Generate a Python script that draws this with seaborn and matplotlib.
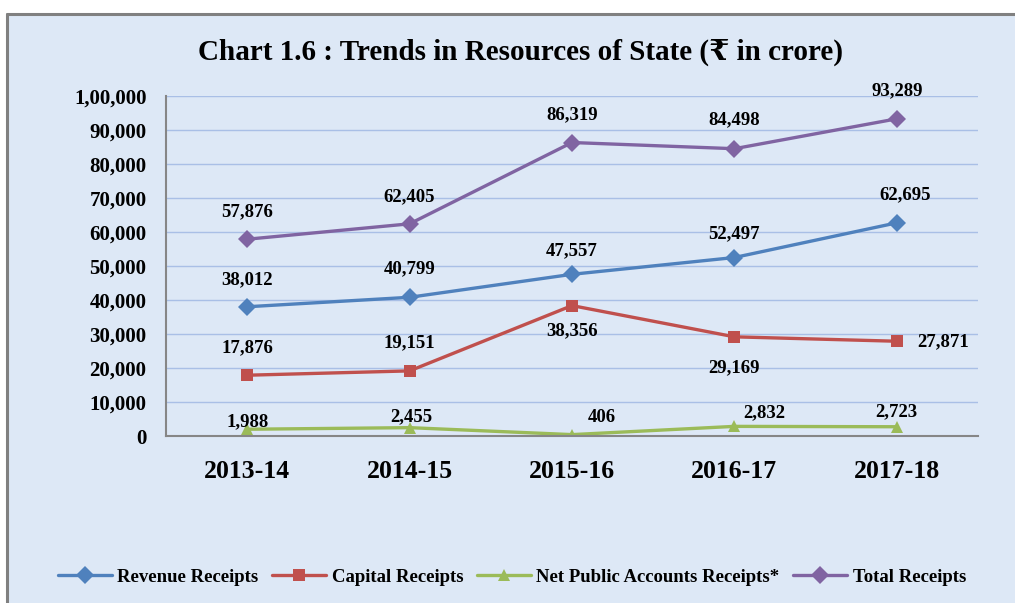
import seaborn as sns
import matplotlib.pyplot as plt
import matplotlib.patches as mpatches
from matplotlib.lines import Line2D
import pandas as pd
import numpy as np

# Data (Rs in crore)
years = ['2013-14', '2014-15', '2015-16', '2016-17', '2017-18']
revenue = [38012, 40799, 47557, 52497, 62695]
capital = [17876, 19151, 38356, 29169, 27871]
npa = [1988, 2455, 406, 2832, 2723]
total = [57876, 62405, 86319, 84498, 93289]
series_names = ['Revenue Receipts', 'Capital Receipts',
                'Net Public Accounts Receipts*', 'Total Receipts']
ytick_vals = [0, 10000, 20000, 30000, 40000, 50000, 60000, 70000, 80000, 90000, 100000]
ytick_labels = ['0', '10,000', '20,000', '30,000', '40,000', '50,000',
                '60,000', '70,000', '80,000', '90,000', '1,00,000']

rows = []
for name, vals in zip(series_names, [revenue, capital, npa, total]):
    for y, v in zip(years, vals):
        rows.append({'Year': y, 'Value': v, 'Series': name})
df = pd.DataFrame(rows)

colors = {'Revenue Receipts': '#4f81bd', 'Capital Receipts': '#c0504d',
          'Net Public Accounts Receipts*': '#9bbb59', 'Total Receipts': '#8064a2'}
markers = {'Revenue Receipts': 'D', 'Capital Receipts': 's',
           'Net Public Accounts Receipts*': '^', 'Total Receipts': 'D'}

sns.set_style("white")
plt.rcParams['font.family'] = ['Liberation Serif', 'DejaVu Serif']
plt.rcParams['font.weight'] = 'bold'
plt.rcParams['text.color'] = 'black'
plt.rcParams['xtick.labelcolor'] = 'black'
plt.rcParams['ytick.labelcolor'] = 'black'

fig = plt.figure(figsize=(10.15, 6.03), dpi=100)
fig.patch.set_facecolor('white')

# light blue panel with grey top/left border
W, H = 1015, 603
fig.add_artist(mpatches.Rectangle((7 / W, 0), 1 - 7 / W, 1 - 14 / H,
                                  transform=fig.transFigure, facecolor='#dde8f6',
                                  edgecolor='none', zorder=0))
fig.add_artist(Line2D([7 / W, 1], [1 - 14 / H, 1 - 14 / H], transform=fig.transFigure,
                      color='#808080', lw=2.2))
fig.add_artist(Line2D([7 / W, 7 / W], [0, 1 - 14 / H], transform=fig.transFigure,
                      color='#808080', lw=2.2))

ax = fig.add_axes([166 / W, 1 - 436 / H, (978 - 166) / W, (436 - 96) / H])
ax.set_facecolor('none')

sns.lineplot(data=df, x='Year', y='Value', hue='Series', style='Series',
             palette=colors, markers=markers, dashes=False, linewidth=2.4,
             markersize=9, markeredgewidth=0, ax=ax, sort=False)

ax.set_xlim(-0.5, 4.5)
ax.set_ylim(0, 100000)
ax.set_yticks(ytick_vals)
ax.set_yticklabels(ytick_labels, fontsize=15, fontweight='bold')
ax.set_xticks(range(len(years)))
ax.set_xticklabels(years, fontsize=18.5, fontweight='bold')
ax.set_xticks(np.arange(-0.5, 5, 1), minor=True)
ax.tick_params(axis='x', which='major', length=0, pad=17)
ax.tick_params(axis='x', which='minor', length=8, color='#868686', width=1.5, direction='out')
ax.tick_params(axis='y', length=6, color='#868686', width=1.5, direction='out', pad=8)
ax.set_xlabel('')
ax.set_ylabel('')
ax.yaxis.grid(True, color='#a9bfe6', lw=1)
ax.set_axisbelow(True)
for s in ['top', 'right']:
    ax.spines[s].set_visible(False)
for s in ['left', 'bottom']:
    ax.spines[s].set_color('#868686')
    ax.spines[s].set_linewidth(1.5)

# data labels (offsets in pixels)
offsets = {
    'Total Receipts': [(0, 27), (0, 27), (0, 28), (0, 29), (0, 28)],
    'Revenue Receipts': [(0, 27), (0, 29), (0, 24), (0, 24), (8, 28)],
    'Capital Receipts': [(0, 27), (0, 28), (0, -25), (0, -31), (46, 0)],
    'Net Public Accounts Receipts*': [(0, 8), (2, 11), (30, 17), (30, 14), (0, 15)],
}
for name, vals in zip(series_names, [revenue, capital, npa, total]):
    for i, v in enumerate(vals):
        dx, dy = offsets[name][i]
        ax.annotate(f'{v:,}', (i, v), xytext=(dx, dy), textcoords='offset pixels',
                    ha='center', va='center', fontsize=13.5, fontweight='bold')

fig.text(521 / W, 1 - 52 / H, 'Chart 1.6 : Trends in Resources of State (\u20b9 in crore)',
         ha='center', va='center', fontsize=21, fontweight='bold')

handles, labels = ax.get_legend_handles_labels()
ax.get_legend().remove()
fig.legend(handles, labels, loc='center', bbox_to_anchor=(512 / W, 1 - 577 / H), ncol=4,
           frameon=False, handlelength=2.85, columnspacing=0.75,
           handletextpad=0.3, prop={'weight': 'bold', 'size': 13.5})

fig.savefig('out.png', dpi=100)
